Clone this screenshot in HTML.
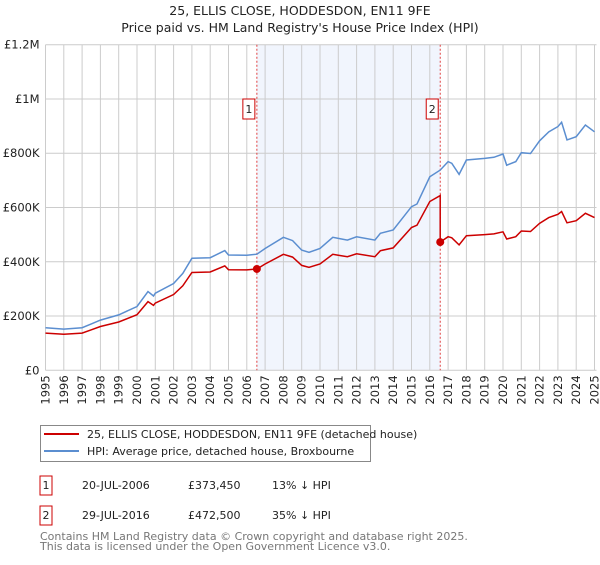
<!DOCTYPE html>
<html><head><meta charset="utf-8"><style>
body{margin:0;background:#fff;font-family:"Liberation Sans","DejaVu Sans",sans-serif;}
svg text{font-family:"DejaVu Sans","Liberation Sans",sans-serif;}
</style></head><body>
<svg id="c" width="600" height="560" xmlns="http://www.w3.org/2000/svg">
<text x="300" y="15" text-anchor="middle" font-size="12.5" fill="#222">25, ELLIS CLOSE, HODDESDON, EN11 9FE</text>
<text x="300" y="32" text-anchor="middle" font-size="12.5" fill="#222">Price paid vs. HM Land Registry's House Price Index (HPI)</text>
<g id="grid"></g><g id="marks"></g><g id="axes"></g>
<g>
<rect x="40.5" y="425.5" width="330" height="36" fill="#fff" stroke="#888"/>
<line x1="44" y1="434" x2="79" y2="434" stroke="#cc0000" stroke-width="2"/>
<text x="87" y="438" font-size="11" fill="#222">25, ELLIS CLOSE, HODDESDON, EN11 9FE (detached house)</text>
<line x1="44" y1="451" x2="79" y2="451" stroke="#5b8ed0" stroke-width="2"/>
<text x="87" y="455" font-size="11" fill="#222">HPI: Average price, detached house, Broxbourne</text>
</g>
<g font-size="11" fill="#222">
<rect x="40" y="476" width="12" height="19" fill="#fff" stroke="#cc0000"/><text x="46" y="489" text-anchor="middle">1</text>
<text x="82" y="489">20-JUL-2006</text><text x="188" y="489">£373,450</text><text x="272" y="489">13% ↓ HPI</text>
<rect x="40" y="506" width="12" height="19" fill="#fff" stroke="#cc0000"/><text x="46" y="519" text-anchor="middle">2</text>
<text x="82" y="519">29-JUL-2016</text><text x="188" y="519">£472,500</text><text x="272" y="519">35% ↓ HPI</text>
</g>
<text x="40" y="540" font-size="11" fill="#777">Contains HM Land Registry data © Crown copyright and database right 2025.</text>
<text x="40" y="550" font-size="11" fill="#777">This data is licensed under the Open Government Licence v3.0.</text>
</svg>
<script>
const hpiYears=[1995,1996,1997,1997.5,1998,1999,2000,2000.6,2000.9,2001,2002,2002.5,2003,2004,2004.8,2005,2006,2006.55,2007,2008,2008.5,2009,2009.4,2010,2010.7,2011,2011.5,2012,2013,2013.3,2014,2015,2015.3,2016,2016.57,2017,2017.2,2017.6,2018,2019,2019.5,2020,2020.2,2020.7,2021,2021.5,2022,2022.5,2023,2023.2,2023.5,2024,2024.5,2025];
const hpiValues=[157,152,157,171,185,204,235,290,274,284,320,357,413,415,441,425,424,428,449,490,478,443,435,449,490,486,480,492,480,505,517,603,613,713,738,769,763,722,775,781,785,797,756,769,802,799,846,879,898,914,849,861,904,879];
const saleYears=[2006.55,2016.57];
const salePrices=[373450,472500];
const saleLabels=["1","2"];
const yTicks=[0,200000,400000,600000,800000,1000000,1200000];
const yTickLabels=["£0","£200K","£400K","£600K","£800K","£1M","£1.2M"];
const xTicks=[];for(let y=1995;y<=2025;y++)xTicks.push(y);

const X0=45.5,X1=594.5,Y0=370.3,Y1=44.7;
const xs=y=>X0+(y-1995)*(X1-X0)/30;
const ys=v=>Y0-v*(Y0-Y1)/1200000;
const NS="http://www.w3.org/2000/svg";
function mk(p,t,a){const e=document.createElementNS(NS,t);for(const k in a)e.setAttribute(k,a[k]);p.appendChild(e);return e;}
const grid=document.getElementById('grid'),marks=document.getElementById('marks'),axes=document.getElementById('axes');

const sh=mk(grid,'rect',{x:xs(saleYears[0]),y:Y1,width:xs(saleYears[1])-xs(saleYears[0]),height:Y0-Y1,fill:'#eef3fc',opacity:0.8});


xTicks.forEach(y=>{
 const l=mk(grid,'line',{x1:xs(y),x2:xs(y),y1:Y1,y2:Y0,stroke:'#cccccc','stroke-width':1});
 
 
 const t=mk(axes,'text',{x:0,y:0,'font-size':11.5,fill:'#222','text-anchor':'end',transform:`translate(${xs(y)+4},${Y0+5}) rotate(-90)`});
 t.textContent=y;
 
 
});
yTicks.forEach((v,i)=>{
 const l=mk(grid,'line',{x1:X0,x2:X1+2,y1:ys(v),y2:ys(v),stroke:'#cccccc','stroke-width':1});
 
 
 const t=mk(axes,'text',{x:X0-6,y:ys(v)+4,'font-size':11.5,fill:'#222','text-anchor':'end'});
 t.textContent=yTickLabels[i];
 
 
});
function interp(y){for(let i=0;i<hpiYears.length-1;i++){if(y<=hpiYears[i+1]){const f=(y-hpiYears[i])/(hpiYears[i+1]-hpiYears[i]);return hpiValues[i]+f*(hpiValues[i+1]-hpiValues[i]);}}return hpiValues[hpiValues.length-1];}
const hpiPath=hpiYears.map((y,i)=>(i?'L':'M')+xs(y).toFixed(1)+','+ys(hpiValues[i]*1000).toFixed(1)).join('');
const r1=salePrices[0]/(interp(saleYears[0])*1000),r2=salePrices[1]/(interp(saleYears[1])*1000);
let pts=[];
hpiYears.forEach((y,i)=>{if(y<saleYears[1])pts.push([y,hpiValues[i]*1000*r1]);});
pts.push([saleYears[1],interp(saleYears[1])*1000*r1]);
pts.push([saleYears[1],salePrices[1]]);
hpiYears.forEach((y,i)=>{if(y>saleYears[1])pts.push([y,hpiValues[i]*1000*r2]);});
const propPath=pts.map((p,i)=>(i?'L':'M')+xs(p[0]).toFixed(1)+','+ys(p[1]).toFixed(1)).join('');

saleYears.forEach((y,i)=>{
 const l=mk(marks,'line',{x1:xs(y),x2:xs(y),y1:Y1,y2:Y0,stroke:'#e04040','stroke-width':1,'stroke-dasharray':'2,2'});
 
 
});
const hp=mk(marks,'path',{d:hpiPath,fill:'none',stroke:'#5b8ed0','stroke-width':1.5});


const pp=mk(marks,'path',{d:propPath,fill:'none',stroke:'#cc0000','stroke-width':1.5});


saleYears.forEach((y,i)=>{
 const c=mk(marks,'circle',{cx:xs(y),cy:ys(salePrices[i]),r:4,fill:'#cc0000'});
 
 
 const g=mk(marks,'g',{});
 
 
 mk(g,'rect',{x:xs(y)-14,y:99,width:12,height:20,fill:'#fff',stroke:'#cc0000'});
 const t=mk(g,'text',{x:xs(y)-8,y:113,'font-size':11,fill:'#222','text-anchor':'middle'});
 t.textContent=saleLabels[i];
});
</script>
</body></html>
